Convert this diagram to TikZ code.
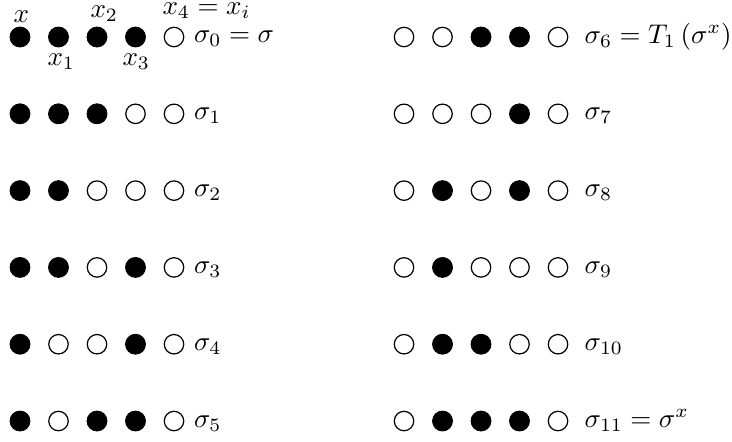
\documentclass[tikz,border=0pt]{standalone}
\begin{document}
\begin{tikzpicture}[x=0.37pt,y=-0.37pt,
  full/.style={circle,fill=black,draw=black,line width=0.3pt,minimum size=7.4pt,inner sep=0pt},
  empty/.style={circle,fill=white,draw=black,line width=0.45pt,minimum size=7.2pt,inner sep=0pt},
  lab/.style={anchor=base west,inner sep=0pt}]
\useasboundingbox (0,0) rectangle (732,441);
% rows: list of states (1 = filled)
\foreach \r/\col/\row/\a/\b/\c/\d/\e in {
  0/0/0/1/1/1/1/0, 1/0/1/1/1/1/0/0, 2/0/2/1/1/0/0/0,
  3/0/3/1/1/0/1/0, 4/0/4/1/0/0/1/0, 5/0/5/1/0/1/1/0,
  6/1/0/0/0/1/1/0, 7/1/1/0/0/0/1/0, 8/1/2/0/1/0/1/0,
  9/1/3/0/1/0/0/0, 10/1/4/0/1/1/0/0, 11/1/5/0/1/1/1/0}{
  \pgfmathsetmacro{\yy}{37+76.8*\row}
  \pgfmathsetmacro{\xx}{20+384*\col}
  \foreach \v [count=\k from 0] in {\a,\b,\c,\d,\e}{
    \ifnum\v=1
      \node[full] (s\r-\k) at ({\xx+38.5*\k},\yy) {};
    \else
      \node[empty] (s\r-\k) at ({\xx+38.5*\k},\yy) {};
    \fi
  }
}
\node[lab] (l0) at (193.5,42) {$\sigma_0=\sigma$};
\node[lab] (l1) at (193.5,{43+76.8}) {$\sigma_1$};
\node[lab] (l2) at (193.5,{43+2*76.8}) {$\sigma_2$};
\node[lab] (l3) at (193.5,{43+3*76.8}) {$\sigma_3$};
\node[lab] (l4) at (193.5,{43+4*76.8}) {$\sigma_4$};
\node[lab] (l5) at (193.5,{43+5*76.8}) {$\sigma_5$};
\node[lab] (l6) at (584,43) {$\sigma_6=T_1\left(\sigma^x\right)$};
\node[lab] (l7) at (584,{43+76.8}) {$\sigma_7$};
\node[lab] (l8) at (584,{43+2*76.8}) {$\sigma_8$};
\node[lab] (l9) at (584,{43+3*76.8}) {$\sigma_9$};
\node[lab] (l10) at (584,{43+4*76.8}) {$\sigma_{10}$};
\node[lab] (l11) at (584,{43+5*76.8}) {$\sigma_{11}=\sigma^x$};
% position labels
\node[lab] (px) at (13,22.7) {$x$};
\node[lab] (px2) at (90,17.5) {$x_2$};
\node[lab] (px4) at (162,14.5) {$x_4=x_i$};
\node[lab] (px1) at (47,65) {$x_1$};
\node[lab] (px3) at (122,65) {$x_3$};
\end{tikzpicture}
\end{document}
